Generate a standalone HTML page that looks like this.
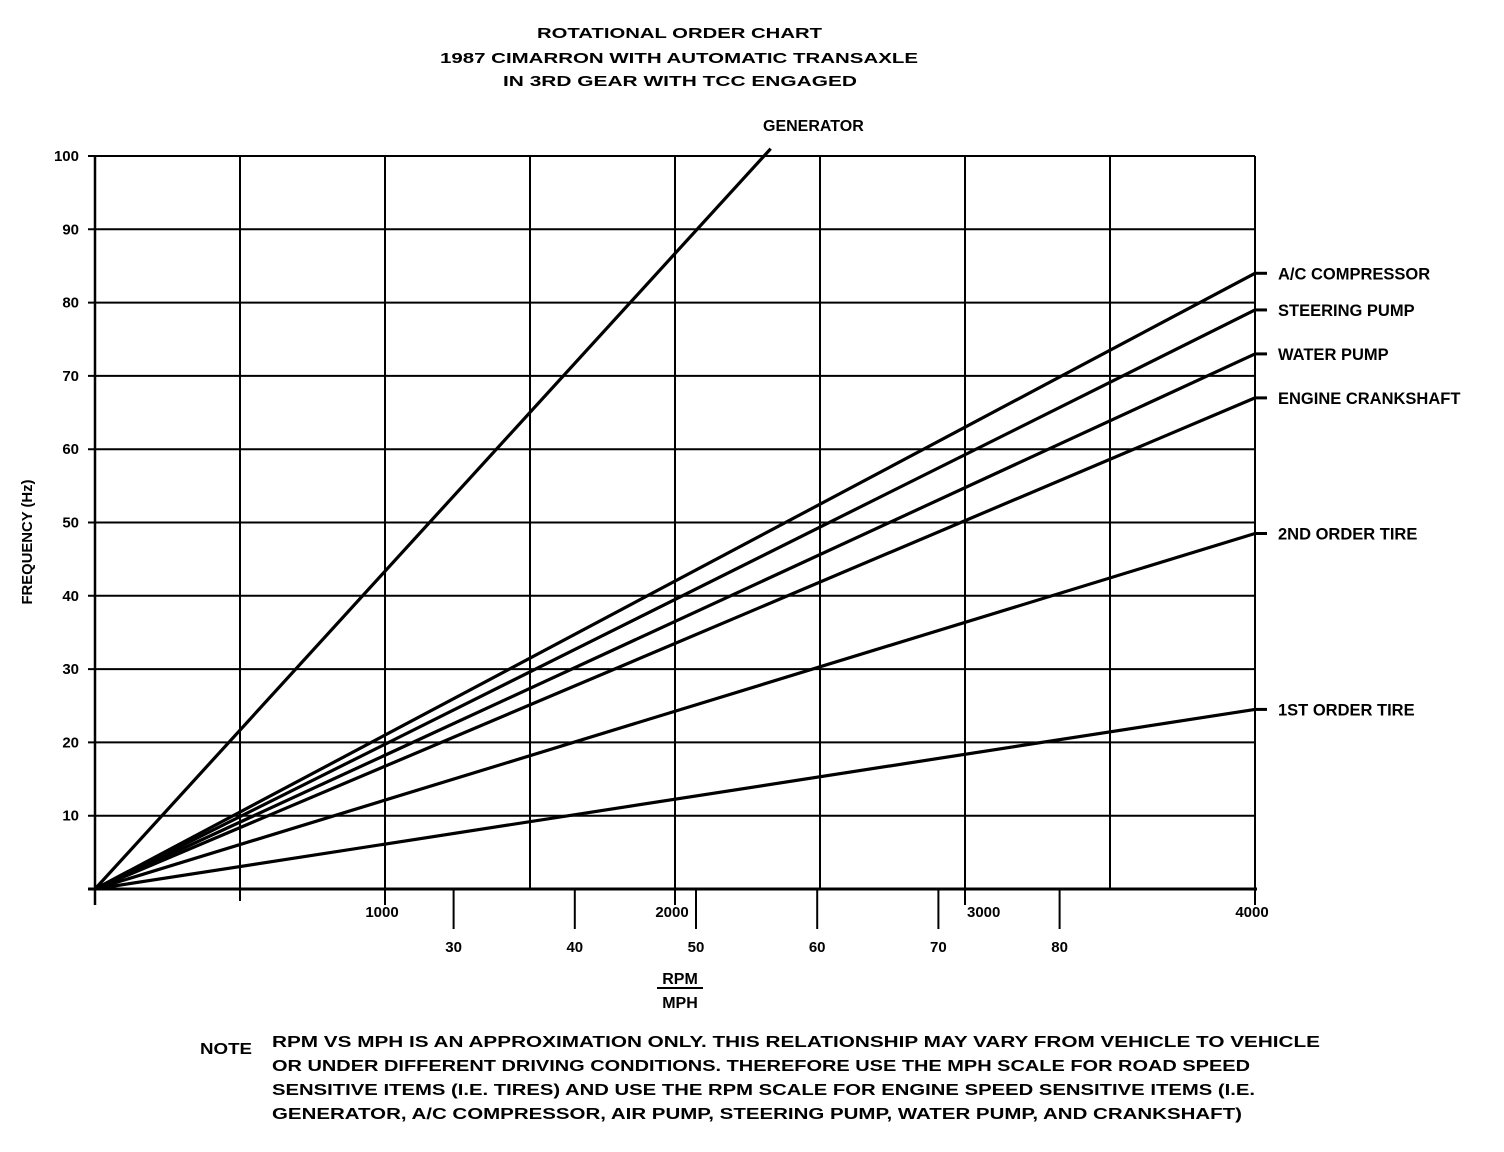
<!DOCTYPE html>
<html><head><meta charset="utf-8"><style>
html,body{margin:0;padding:0;background:#fff;}
svg{display:block;font-family:"Liberation Sans",sans-serif;font-weight:bold;}
</style></head><body>
<svg id="chart" width="1504" height="1152" viewBox="0 0 1504 1152" xmlns="http://www.w3.org/2000/svg">
<g font-size="15" fill="#000">
<text x="537" y="38" textLength="285" lengthAdjust="spacingAndGlyphs">ROTATIONAL ORDER CHART</text>
<text x="440" y="63" textLength="478" lengthAdjust="spacingAndGlyphs">1987 CIMARRON WITH AUTOMATIC TRANSAXLE</text>
<text x="503" y="86" textLength="354" lengthAdjust="spacingAndGlyphs">IN 3RD GEAR WITH TCC ENGAGED</text>
</g>
<text font-size="15" text-anchor="middle" textLength="125" lengthAdjust="spacingAndGlyphs" transform="translate(32,542) rotate(-90)">FREQUENCY (Hz)</text>
<g id="grid"></g>
<g id="axes"></g>
<g id="series"></g>
<g font-size="16" text-anchor="middle">
<text x="680" y="984">RPM</text>
<line x1="657" y1="988" x2="703" y2="988" stroke="#000" stroke-width="2"/>
<text x="680" y="1008">MPH</text>
</g>
<g font-size="16" fill="#000">
<text x="200" y="1054" textLength="52" lengthAdjust="spacingAndGlyphs">NOTE</text>
<text x="272" y="1047" textLength="1048" lengthAdjust="spacingAndGlyphs">RPM VS MPH IS AN APPROXIMATION ONLY. THIS RELATIONSHIP MAY VARY FROM VEHICLE TO VEHICLE</text>
<text x="272" y="1071" textLength="978" lengthAdjust="spacingAndGlyphs">OR UNDER DIFFERENT DRIVING CONDITIONS. THEREFORE USE THE MPH SCALE FOR ROAD SPEED</text>
<text x="272" y="1095" textLength="983" lengthAdjust="spacingAndGlyphs">SENSITIVE ITEMS (I.E. TIRES) AND USE THE RPM SCALE FOR ENGINE SPEED SENSITIVE ITEMS (I.E.</text>
<text x="272" y="1119" textLength="970" lengthAdjust="spacingAndGlyphs">GENERATOR, A/C COMPRESSOR, AIR PUMP, STEERING PUMP, WATER PUMP, AND CRANKSHAFT)</text>
</g>
</svg>
<script>
const seriesNames = ["GENERATOR","A/C COMPRESSOR","STEERING PUMP","WATER PUMP","ENGINE CRANKSHAFT","2ND ORDER TIRE","1ST ORDER TIRE"];
const seriesEndRpm = [2330,4000,4000,4000,4000,4000,4000];
const seriesEndHz = [101,84,79,73,67,48.5,24.5];
const yTicks = [10,20,30,40,50,60,70,80,90,100];
const rpmTicks = [1000,2000,3000,4000];
const mphTicks = [30,40,50,60,70,80];
const gridRpm = [500,1000,1500,2000,2500,3000,3500,4000];

const NS="http://www.w3.org/2000/svg";
const X0=95,X1=1255,Y0=889,Y1=156;
function xs(r){return X0+(X1-X0)*r/4000;}
function ys(h){return Y0-(Y0-Y1)*h/100;}
function xm(m){return 90+12.12*m;}
function mk(tag,attrs,parent){var e=document.createElementNS(NS,tag);for(var k in attrs)e.setAttribute(k,attrs[k]);parent.appendChild(e);return e;}
var grid=document.getElementById('grid'),axes=document.getElementById('axes'),ser=document.getElementById('series');

for(var i=0;i<yTicks.length;i++){
  var v=yTicks[i];
  var l=mk('line',{x1:88,x2:X1,y1:ys(v),y2:ys(v),stroke:'#000','stroke-width':2},grid);
  
  
  var t=mk('text',{x:79,y:ys(v)+5,'text-anchor':'end','font-size':15},axes);
  t.textContent=String(v);
  
  
}
for(var i=0;i<gridRpm.length;i++){
  var l=mk('line',{x1:xs(gridRpm[i]),x2:xs(gridRpm[i]),y1:Y1,y2:Y0,stroke:'#000','stroke-width':2},grid);
  
  
}
var a=mk('line',{x1:X0,x2:X0,y1:Y1,y2:Y0+16,stroke:'#000','stroke-width':2.5},axes);


a=mk('line',{x1:88,x2:X1+2,y1:Y0,y2:Y0,stroke:'#000','stroke-width':3},axes);


a=mk('line',{x1:xs(500),x2:xs(500),y1:Y0,y2:Y0+12,stroke:'#000','stroke-width':2},axes);


for(var i=0;i<rpmTicks.length;i++){
  var r=rpmTicks[i];
  var l=mk('line',{x1:xs(r),x2:xs(r),y1:Y0,y2:Y0+16,stroke:'#000','stroke-width':2},axes);
  
  
  var t=mk('text',{x:xs(r)+(r===3000?2:-3),y:917,'text-anchor':(r===3000?'start':'middle'),'font-size':15},axes);
  t.textContent=String(r);
  
  
}
for(var j=0;j<mphTicks.length;j++){
  var m=mphTicks[j];
  var lm=mk('line',{x1:xm(m),x2:xm(m),y1:Y0,y2:Y0+40,stroke:'#000','stroke-width':2},axes);
  
  
  var tm=mk('text',{x:xm(m),y:952,'text-anchor':'middle','font-size':15},axes);
  tm.textContent=String(m);
  
  
}
for(var i=0;i<seriesNames.length;i++){
  var n=seriesNames[i];
  var ex=xs(seriesEndRpm[i]),ey=ys(seriesEndHz[i]);
  var l=mk('line',{x1:X0,y1:Y0,x2:ex,y2:ey,stroke:'#000','stroke-width':3.2},ser);
  
  
  var t;
  if(i===0){
    t=mk('text',{x:763,y:131,'font-size':16},ser);
  } else {
    mk('line',{x1:ex,y1:ey,x2:ex+12,y2:ey,stroke:'#000','stroke-width':3},ser);
    t=mk('text',{x:1278,y:ey+6,'font-size':16.5},ser);
  }
  t.textContent=n;
  
  
}
</script>
</body></html>
